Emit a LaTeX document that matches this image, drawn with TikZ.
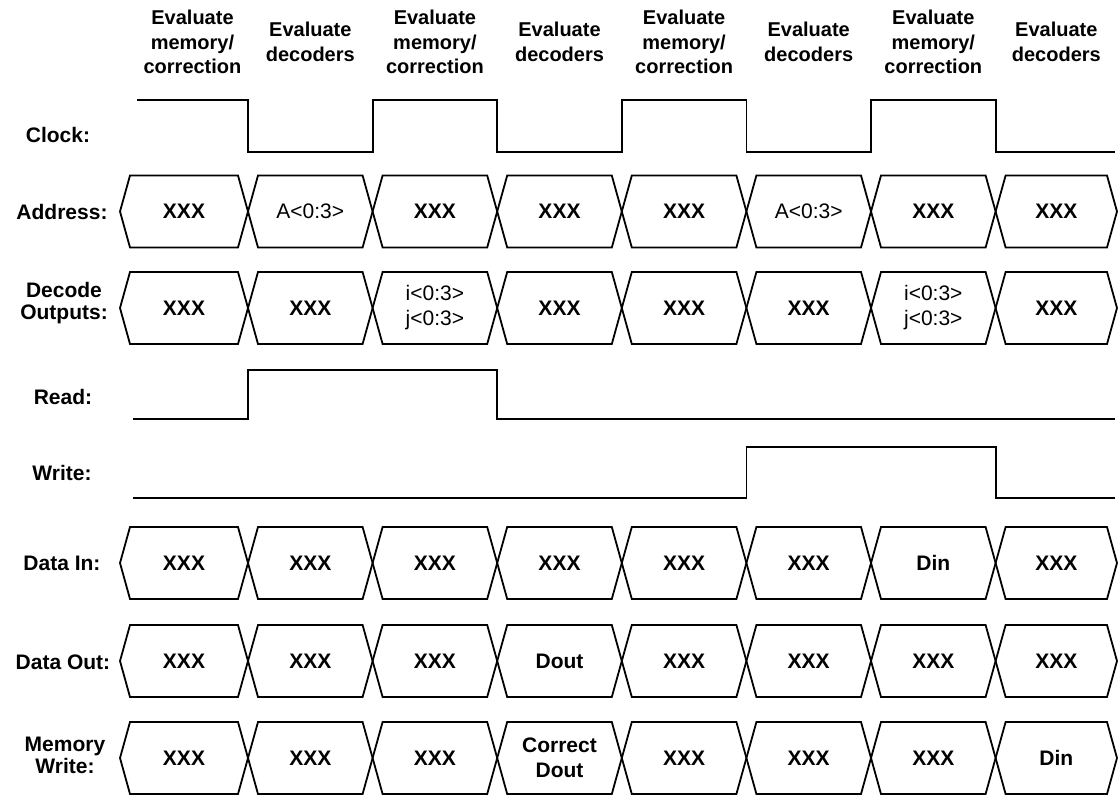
\documentclass[tikz,border=0pt]{standalone}
\usepackage{fontspec}
\setmainfont{Liberation Sans}
\usepackage{tikz}
\usetikzlibrary{positioning}

\def\edges{{120,248,372.6,497.2,621.8,746.4,871,995.6,1117}}
\def\evmem{Evaluate\\memory/\\correction}
\def\evdec{Evaluate\\decoders}
\newcommand{\busrow}[3]{%
  \foreach \lab [count=\i] in {#3} {
    \pgfmathsetmacro{\xa}{\edges[\i-1]}
    \pgfmathsetmacro{\xb}{\edges[\i]}
    \draw[wave] (\xa,#2) -- (\xa+10,#2-36) -- (\xb-10,#2-36) -- (\xb,#2) -- (\xb-10,#2+36) -- (\xa+10,#2+36) -- cycle;
    \node[val] (#1-\i) at ({(\xa+\xb)/2},#2) {\lab};
  }}

\begin{document}
\begin{tikzpicture}[x=1pt, y=-1pt,
    wave/.style={line width=1.8pt},
    val/.style={font=\fontsize{21}{25}\selectfont\bfseries, align=center, inner sep=0pt},
    lbl/.style={font=\fontsize{21}{22}\selectfont\bfseries, align=center, inner sep=0pt},
    head/.style={font=\fontsize{20}{24.5}\selectfont\bfseries, align=center, inner sep=0pt}
  ]
  \useasboundingbox (0,0) rectangle (1118,803);
  \foreach \x/\txt [count=\i] in {192.5/\evmem, 310.3/\evdec, 434.9/\evmem, 559.5/\evdec,
      684.1/\evmem, 808.7/\evdec, 933.3/\evmem, 1056.3/\evdec}
    \node[head] (head-\i) at (\x,42) {\txt};

  \node[lbl] (clk-lbl) at (58,135) {Clock:};
  \node[lbl] (addr-lbl) at (62,212) {Address:};
  \node[lbl] (dec-lbl) at (64,303) {Decode\\Outputs:};
  \node[lbl] (rd-lbl) at (63,397) {Read:};
  \node[lbl] (wr-lbl) at (62,473) {Write:};
  \node[lbl] (din-lbl) at (62,563) {Data In:};
  \node[lbl] (dout-lbl) at (63,662) {Data Out:};
  \node[lbl] (mw-lbl) at (65,755) {Memory\\Write:};

  \draw[wave] (137,100) -| (248,152) -| (372.6,100) -| (497.2,152) -| (621.8,100)
    -| (746.4,152) -| (871,100) -| (995.6,152) -- (1115,152);
  \draw[wave] (133,419) -| (248,370) -| (497.2,419) -- (1115,419);
  \draw[wave] (133,498) -| (746.4,447) -| (995.6,498) -- (1115,498);

  \busrow{addr}{211.5}{XXX,\textmd{A<0:3>},XXX,XXX,XXX,\textmd{A<0:3>},XXX,XXX}
  \busrow{dec}{308}{XXX,XXX,{\textmd{i<0:3>}\\\textmd{j<0:3>}},XXX,XXX,XXX,{\textmd{i<0:3>}\\\textmd{j<0:3>}},XXX}
  \busrow{din}{563}{XXX,XXX,XXX,XXX,XXX,XXX,Din,XXX}
  \busrow{dout}{661}{XXX,XXX,XXX,Dout,XXX,XXX,XXX,XXX}
  \busrow{mw}{758}{XXX,XXX,XXX,{Correct\\Dout},XXX,XXX,XXX,Din}
\end{tikzpicture}
\end{document}
